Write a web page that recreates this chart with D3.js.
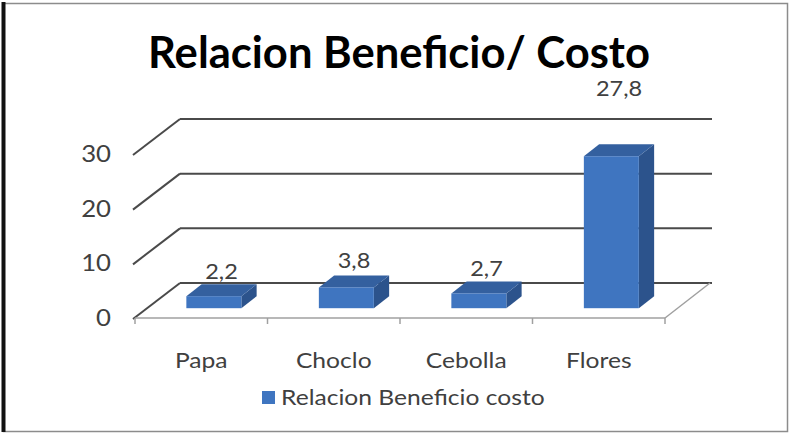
<!DOCTYPE html>
<html>
<head>
<meta charset="utf-8">
<script src="https://cdn.jsdelivr.net/npm/d3@7"></script>
<style>
  html, body { margin: 0; padding: 0; background: #fff; }
  svg { display: block; }
  text { font-family: Lato, "Open Sans", sans-serif; }
</style>
</head>
<body>
<svg id="chart" width="792" height="434"></svg>
<script>
// Benefit/cost ratio per crop
const categories = ["Papa", "Choclo", "Cebolla", "Flores"];
const values = [2.2, 3.8, 2.7, 27.8];
const valueLabels = ["2,2", "3,8", "2,7", "27,8"];
const yTicks = [0, 10, 20, 30];
const seriesName = "Relacion Beneficio costo";
const titleText = "Relacion Beneficio/ Costo";

const W = 792, H = 434;
const svg = d3.select("#chart");
const textColor = "#404040";
const stretch = 1.12; // slightly wide lettering for the small labels

// Places a text at (px, py) with a horizontal stretch about its anchor
function placeText(sel, px, py) {
  return sel.attr("x", 0).attr("y", 0)
    .attr("transform", (d, i) => `translate(${px(d, i)},${py(d, i)}) scale(${stretch},1)`);
}

// Frame
svg.append("rect").attr("x", 3.5).attr("y", 3.5).attr("width", 784).attr("height", 428)
  .attr("fill", "#fff").attr("stroke", "#8c8c8c").attr("stroke-width", 1.5);
svg.append("line").attr("x1", 3.5).attr("x2", 3.5).attr("y1", 2).attr("y2", 432)
  .attr("stroke", "#111").attr("stroke-width", 4);

// 3D projection: front plane + a depth vector
const frontLeft = 135, frontRight = 665, baseY = 318;
const depth = { dx: 45, dy: -35 };
const x = d3.scaleBand().domain(categories).range([frontLeft, frontRight]);
const h = d3.scaleLinear().domain([0, 30]).range([0, 164]);
const proj = (px, py, f) => [px + depth.dx * f, py + depth.dy * f];

const gridColor = "#4a4a4a", floorColor = "#a0a0a0";

// Back wall gridlines and left wall diagonals
const grid = svg.append("g");
yTicks.forEach(t => {
  const yf = baseY - h(t);
  const [bx, by] = proj(frontLeft, yf, 1);
  const [ex, ey] = proj(frontRight, yf, 1);
  grid.append("line").attr("x1", bx).attr("y1", by).attr("x2", ex + 2).attr("y2", ey)
    .attr("stroke", gridColor).attr("stroke-width", 2);
  grid.append("line").attr("x1", frontLeft - 2).attr("y1", yf + 1).attr("x2", bx).attr("y2", by)
    .attr("stroke", gridColor).attr("stroke-width", 2);
});

// Floor front and right edges
const [rbx, rby] = proj(frontRight, baseY, 1);
grid.append("line").attr("x1", frontLeft).attr("y1", baseY).attr("x2", frontRight).attr("y2", baseY)
  .attr("stroke", floorColor).attr("stroke-width", 1.5);
grid.append("line").attr("x1", frontRight).attr("y1", baseY).attr("x2", rbx).attr("y2", rby)
  .attr("stroke", floorColor).attr("stroke-width", 1.5);

// Category ticks on the floor front edge
const tickXs = categories.map(c => x(c)).concat([frontRight]);
tickXs.forEach(tx => {
  grid.append("line").attr("x1", tx).attr("x2", tx).attr("y1", baseY).attr("y2", baseY + 6)
    .attr("stroke", floorColor).attr("stroke-width", 1.5);
});

// Value axis labels
placeText(svg.append("g").selectAll("text").data(yTicks).join("text"),
    () => 111, d => baseY - h(d) + 8)
  .attr("text-anchor", "end").attr("font-size", 23).attr("fill", textColor)
  .text(d => d);

// Bars (front face, top, right side)
const f0 = 0.28, f1 = 0.62;
const barW = x.bandwidth() * 0.415;
const bars = svg.append("g");
categories.forEach((c, i) => {
  const cx = x(c) + x.bandwidth() / 2;
  const [fx, fy] = proj(cx - barW / 2, baseY, f0);
  const top = fy - h(values[i]);
  const ddx = depth.dx * (f1 - f0), ddy = depth.dy * (f1 - f0);
  const pts = a => a.map(p => p.join(",")).join(" ");
  bars.append("polygon").attr("points", pts([[fx + barW, fy], [fx + barW + ddx, fy + ddy], [fx + barW + ddx, top + ddy], [fx + barW, top]]))
    .attr("fill", "#2c538c");
  bars.append("polygon").attr("points", pts([[fx, top], [fx + barW, top], [fx + barW + ddx, top + ddy], [fx + ddx, top + ddy]]))
    .attr("fill", "#34609f");
  bars.append("rect").attr("x", fx).attr("y", top).attr("width", barW).attr("height", fy - top)
    .attr("fill", "#3f75c0");
});

// Value labels
const labelY = d3.scaleLinear().domain([0, 30]).range([295, 80.5]);
placeText(svg.append("g").selectAll("text").data(categories).join("text"),
    c => x(c) + x.bandwidth() / 2 + depth.dx * (f0 + f1) / 2,
    (c, i) => labelY(values[i]))
  .attr("text-anchor", "middle").attr("font-size", 21).attr("fill", textColor)
  .text((c, i) => valueLabels[i]);

// Category labels
placeText(svg.append("g").selectAll("text").data(categories).join("text"),
    c => x(c) + x.bandwidth() / 2, () => 368)
  .attr("text-anchor", "middle").attr("font-size", 22).attr("fill", textColor)
  .text(c => c);

// Legend
const legend = svg.append("g");
legend.append("rect").attr("x", 262).attr("y", 391).attr("width", 13).attr("height", 13).attr("fill", "#3f75c0");
legend.append("text").attr("x", 0).attr("y", 0)
  .attr("transform", `translate(281,405) scale(${stretch},1)`)
  .attr("font-size", 22).attr("fill", textColor).text(seriesName);

// Title, sized to its slot
const title = svg.append("text").attr("x", 399).attr("y", 68).attr("text-anchor", "middle")
  .attr("font-weight", "bold").attr("font-size", 42).attr("fill", "#000").text(titleText);
const tw = title.node().getComputedTextLength();
title.attr("font-size", 42 * 502 / tw);
</script>
</body>
</html>
